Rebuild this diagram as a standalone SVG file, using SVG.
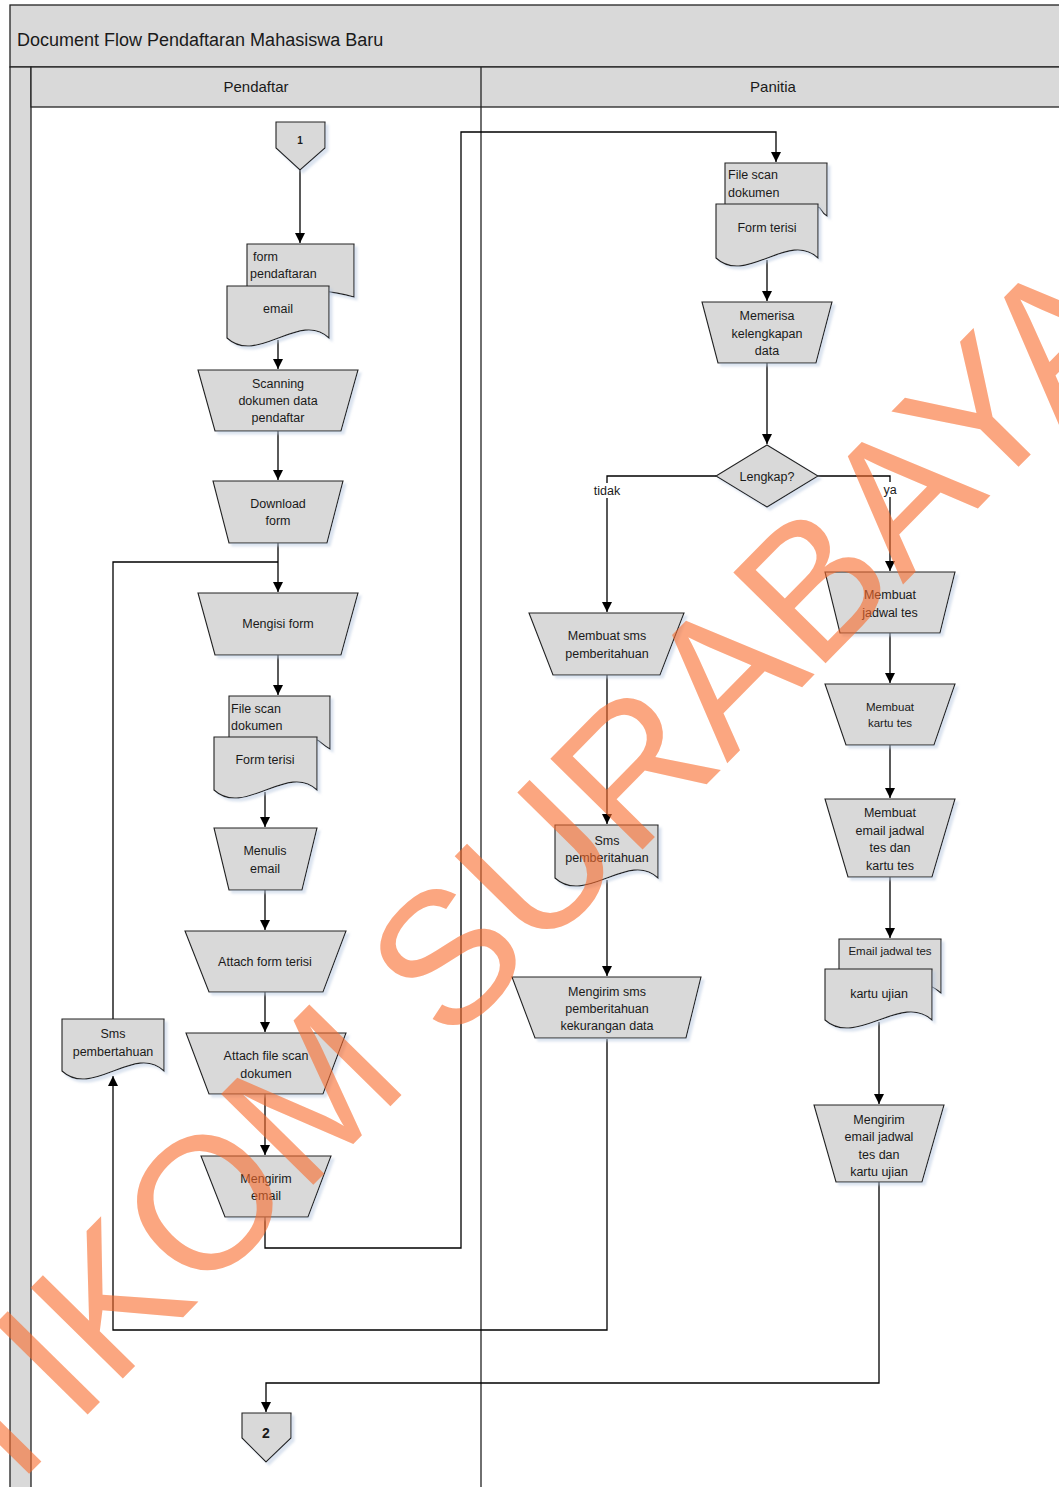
<svg xmlns="http://www.w3.org/2000/svg" width="1059" height="1487" viewBox="0 0 1059 1487">
<defs>
<marker id="ah" markerUnits="userSpaceOnUse" markerWidth="11" markerHeight="11" refX="10" refY="5" orient="auto">
<path d="M0,0 L10,5 L0,10 z" fill="#000"/>
</marker>
<filter id="sh" x="-10%" y="-10%" width="130%" height="130%">
<feDropShadow dx="3" dy="3" stdDeviation="1" flood-color="#b8c8e0" flood-opacity="0.5"/>
</filter>
<style>
.band{fill:#d9d9d9;stroke:#222;stroke-width:1.3}
.ln{fill:none;stroke:#222;stroke-width:1.3}
.nd{fill:#d9d9d9;stroke:#222;stroke-width:1.1;filter:url(#sh)}
.c{fill:none;stroke:#000;stroke-width:1.3}
.a{marker-end:url(#ah)}
text{font-family:"Liberation Sans",Arial,sans-serif;fill:#1a1a1a}
.t{font-size:12.5px;text-anchor:middle}
.tl{font-size:12.5px;text-anchor:start}
.ts{font-size:11.5px;text-anchor:middle}
.wm{font-size:188px;fill:#F96B2B;fill-opacity:0.6;font-family:"Liberation Sans",Arial,sans-serif}
</style>
</defs>
<rect width="1059" height="1487" fill="#fff"/>
<g id="pool">
<rect class="band" x="10" y="5" width="1060" height="62"/>
<text x="17" y="46" style="font-size:18px">Document Flow Pendaftaran Mahasiswa Baru</text>
<rect class="band" x="10" y="67" width="21" height="1430"/>
<rect class="band" x="31" y="67" width="1040" height="40"/>
<line class="ln" x1="481" y1="67" x2="481" y2="1487"/>
<text x="256" y="92" style="font-size:15px;text-anchor:middle">Pendaftar</text>
<text x="773" y="92" style="font-size:15px;text-anchor:middle">Panitia</text>
</g>
<g id="connectors">
<path class="c a" d="M300,170 V243"/>
<path class="c a" d="M278,340 V369"/>
<path class="c a" d="M278,431 V480"/>
<path class="c a" d="M278,543 V592"/>
<path class="c a" d="M278,655 V695"/>
<path class="c a" d="M265,792 V827"/>
<path class="c a" d="M265,890 V930"/>
<path class="c a" d="M265,992 V1032"/>
<path class="c a" d="M265,1094 V1155"/>
<path class="c a" d="M265,1217 V1248 H461 V132 H776 V162"/>
<path class="c a" d="M767,260 V301"/>
<path class="c a" d="M767,363 V444"/>
<path class="c a" d="M716,476 H607 V612"/>
<path class="c a" d="M818,476 H890 V571"/>
<path class="c a" d="M607,675 V824"/>
<path class="c a" d="M607,880 V976"/>
<path class="c a" d="M607,1039 V1330 H113 V1076"/>
<path class="c" d="M113,1019 V562 H278"/>
<path class="c a" d="M890,633 V683"/>
<path class="c a" d="M890,745 V798"/>
<path class="c a" d="M890,877 V938"/>
<path class="c a" d="M879,1022 V1104"/>
<path class="c a" d="M879,1182 V1383 H266 V1412"/>
<rect x="591" y="483" width="33" height="15" fill="#fff"/>
<text x="607" y="495" class="t">tidak</text>
<rect x="882" y="482" width="16" height="15" fill="#fff"/>
<text x="890" y="494" class="t">ya</text>
</g>
<g id="off1">
<path class="nd" d="M276,122 H325 V148 L300,170 L276,148 Z"/>
<text x="300" y="144" style="font-size:10px;font-weight:bold;text-anchor:middle">1</text>
</g>
<g id="doc-form-email">
<path class="nd" d="M247,244 H354 V297 C327,289 314,292 300,288 L247,288 Z"/>
<text x="253" y="261" class="tl">form</text>
<text x="250" y="278" class="tl">pendaftaran</text>
<path class="nd" d="M227,286 H329 V338 C300,310 257,366 227,338 Z"/>
<text x="278" y="313" class="t">email</text>
</g>
<g id="scanning">
<polygon class="nd" points="198,370 358,370 341,431 215,431"/>
<text x="278" y="388" class="t">Scanning</text>
<text x="278" y="405" class="t">dokumen data</text>
<text x="278" y="422" class="t">pendaftar</text>
</g>
<g id="download">
<polygon class="nd" points="213,481 343,481 327,543 229,543"/>
<text x="278" y="508" class="t">Download</text>
<text x="278" y="525" class="t">form</text>
</g>
<g id="mengisi">
<polygon class="nd" points="198,593 358,593 341,655 215,655"/>
<text x="278" y="628" class="t">Mengisi form</text>
</g>
<g id="doc-filescan-left">
<path class="nd" d="M229,696 H330 V749 C324,746 320,741 317,740 L229,740 Z"/>
<text x="231" y="713" class="tl">File scan</text>
<text x="231" y="730" class="tl">dokumen</text>
<path class="nd" d="M214,737 H317 V790 C288,762 244,818 214,790 Z"/>
<text x="265" y="764" class="t">Form terisi</text>
</g>
<g id="menulis">
<polygon class="nd" points="214,828 317,828 302,890 229,890"/>
<text x="265" y="855" class="t">Menulis</text>
<text x="265" y="873" class="t">email</text>
</g>
<g id="attach-form">
<polygon class="nd" points="185,931 346,931 323,992 209,992"/>
<text x="265" y="966" class="t">Attach form terisi</text>
</g>
<g id="attach-file">
<polygon class="nd" points="186,1033 346,1033 323,1094 209,1094"/>
<text x="266" y="1060" class="t">Attach file scan</text>
<text x="266" y="1078" class="t">dokumen</text>
</g>
<g id="mengirim-email">
<polygon class="nd" points="201,1156 331,1156 308,1217 225,1217"/>
<text x="266" y="1183" class="t">Mengirim</text>
<text x="266" y="1200" class="t">email</text>
</g>
<g id="sms-left">
<path class="nd" d="M62,1019 H164 V1071 C135,1043 92,1099 62,1071 Z"/>
<text x="113" y="1038" class="t">Sms</text>
<text x="113" y="1056" class="t">pembertahuan</text>
</g>
<g id="off2">
<path class="nd" d="M242,1413 H291 V1438 L266,1462 L242,1438 Z"/>
<text x="266" y="1438" style="font-size:14px;font-weight:bold;text-anchor:middle">2</text>
</g>
<g id="doc-filescan-right">
<path class="nd" d="M725,163 H827 V216 C821,213 822,208 818,207 L725,207 Z"/>
<text x="728" y="179" class="tl">File scan</text>
<text x="728" y="197" class="tl">dokumen</text>
<path class="nd" d="M716,204 H818 V258 C789,230 746,286 716,258 Z"/>
<text x="767" y="232" class="t">Form terisi</text>
</g>
<g id="memerisa">
<polygon class="nd" points="702,302 832,302 816,363 718,363"/>
<text x="767" y="320" class="t">Memerisa</text>
<text x="767" y="338" class="t">kelengkapan</text>
<text x="767" y="355" class="t">data</text>
</g>
<g id="lengkap">
<polygon class="nd" points="767,445 818,476 767,507 716,476"/>
<text x="767" y="481" class="t">Lengkap?</text>
</g>
<g id="membuat-sms">
<polygon class="nd" points="529,613 684,613 660,675 553,675"/>
<text x="607" y="640" class="t">Membuat sms</text>
<text x="607" y="658" class="t">pemberitahuan</text>
</g>
<g id="sms-right">
<path class="nd" d="M555,825 H658 V878 C629,850 585,906 555,878 Z"/>
<text x="607" y="845" class="t">Sms</text>
<text x="607" y="862" class="t">pemberitahuan</text>
</g>
<g id="mengirim-sms">
<polygon class="nd" points="512,977 701,977 686,1038 535,1038"/>
<text x="607" y="996" class="t">Mengirim sms</text>
<text x="607" y="1013" class="t">pemberitahuan</text>
<text x="607" y="1030" class="t">kekurangan data</text>
</g>
<g id="jadwal">
<polygon class="nd" points="825,572 955,572 940,633 840,633"/>
<text x="890" y="599" class="t">Membuat</text>
<text x="890" y="617" class="t">jadwal tes</text>
</g>
<g id="kartu">
<polygon class="nd" points="825,684 955,684 934,745 846,745"/>
<text x="890" y="711" class="ts">Membuat</text>
<text x="890" y="727" class="ts">kartu tes</text>
</g>
<g id="membuat-email">
<polygon class="nd" points="825,799 955,799 932,877 848,877"/>
<text x="890" y="817" class="t">Membuat</text>
<text x="890" y="835" class="t">email jadwal</text>
<text x="890" y="852" class="t">tes dan</text>
<text x="890" y="870" class="t">kartu tes</text>
</g>
<g id="doc-email-kartu">
<path class="nd" d="M839,939 H941 V993 C937,990 935,988 932,987 L839,987 Z"/>
<text x="890" y="955" class="ts">Email jadwal tes</text>
<path class="nd" d="M825,969 H932 V1020 C902,992 856,1048 825,1020 Z"/>
<text x="879" y="998" class="t">kartu ujian</text>
</g>
<g id="mengirim-jadwal">
<polygon class="nd" points="814,1105 944,1105 922,1182 836,1182"/>
<text x="879" y="1124" class="t">Mengirim</text>
<text x="879" y="1141" class="t">email jadwal</text>
<text x="879" y="1159" class="t">tes dan</text>
<text x="879" y="1176" class="t">kartu ujian</text>
</g>
<g id="watermark">
<text class="wm" transform="translate(-93,1598) rotate(-45.5)">STIKOM SURABAYA</text>
</g>
</svg>
